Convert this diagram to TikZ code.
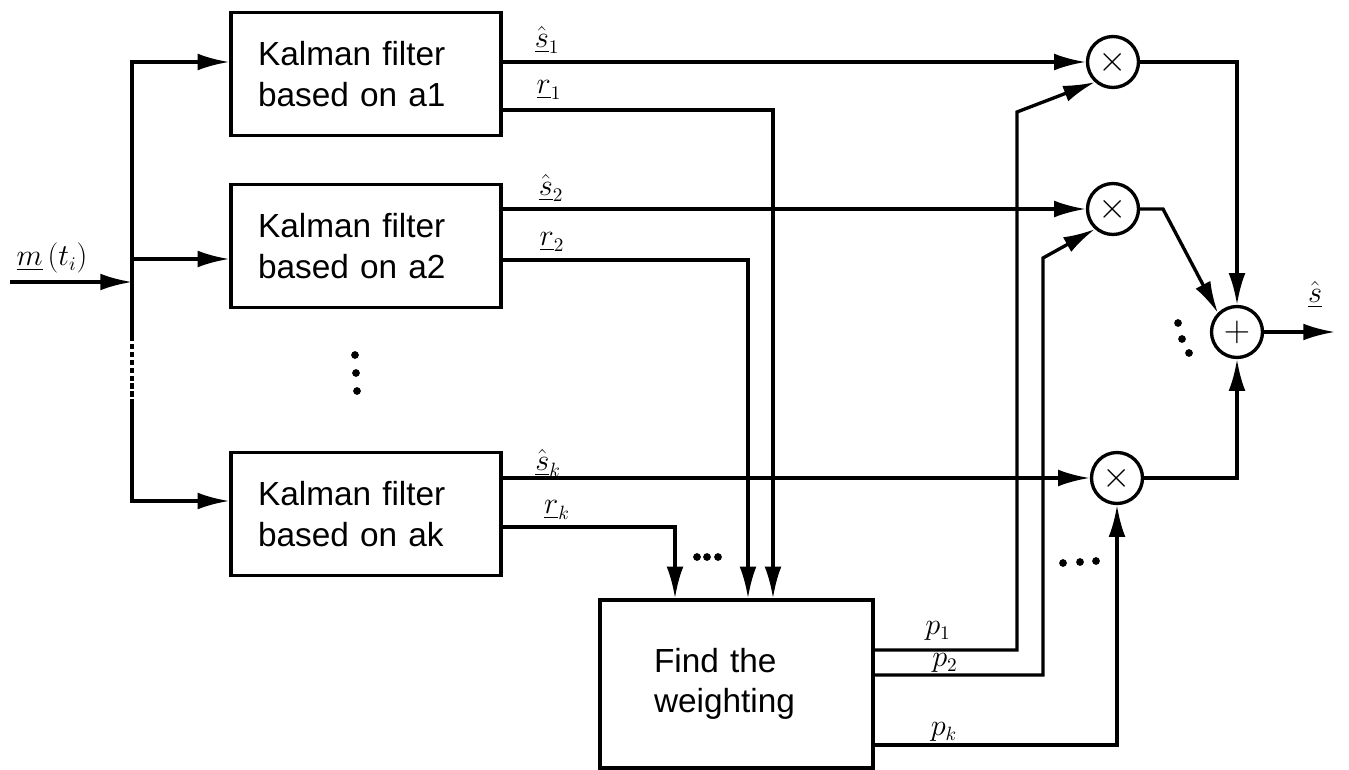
\documentclass[tikz,border=0pt]{standalone}
\usepackage{amsmath,amssymb}
\usepackage{fontspec}
\setmainfont{Liberation Sans}
\usetikzlibrary{arrows.meta}
\tikzset{
  kbox/.style={draw,line width=1.9pt,align=left,text width=4.32cm,inner xsep=0.54cm,minimum height=2.46cm,font=\fontsize{19}{23}\selectfont},
  mulc/.style={circle,draw,line width=1.9pt,minimum size=1.02cm,inner sep=0pt,font=\fontsize{20}{20}\selectfont},
  lab/.style={font=\fontsize{16}{16}\selectfont,inner sep=0pt},
  wire/.style={line width=1.9pt},
  arr/.style={wire,-{Latex[length=18pt,width=9.5pt]}},
  busdots/.style={wire,dash pattern=on 3pt off 1.5pt}
}
\begin{document}
\begin{tikzpicture}[x=0.02cm,y=-0.02cm]
\useasboundingbox (0,0) rectangle (1349,770);
\foreach \n/\y/\a in {1/74/a1,2/246/a2,k/514/ak}{\node[kbox] (kf\n) at (366,\y) {Kalman filter\\based on \a};}
\node[kbox,text width=3.3cm,inner xsep=1.08cm,minimum height=3.36cm] (wt) at (736.5,684) {Find the\\weighting};
\foreach \n/\x/\y in {1/1113/62,2/1113/209,k/1117/478}{\node[mulc] (m\n) at (\x,\y) {$\times$};}
\node[mulc] (add) at (1237,332) {$+$};
% input bus
\coordinate (in) at (10,282);
\coordinate (split) at (132,282);
\coordinate (gap1) at (132,336);
\coordinate (gap2) at (132,401);
\coordinate (out) at (1335,332);
\draw[arr] (in) -- (split);
\draw[arr] (split) |- (kf1.west |- 0,62);
\draw[arr] (split) |- (kf2.west |- 0,259);
\draw[wire] (split) -- (gap1);
\draw[busdots] (gap1) -- (gap2);
\draw[arr] (gap2) |- (kfk.west |- 0,501);
% filter outputs
\draw[arr] (kf1.east |- m1) -- (m1);
\draw[arr] (kf2.east |- m2) -- (m2);
\draw[arr] (kfk.east |- mk) -- (mk);
\draw[arr] (kf1.east |- 0,110) -| (773,0 |- wt.north);
\draw[arr] (kf2.east |- 0,260) -| (748,0 |- wt.north);
\draw[arr] (kfk.east |- 0,527) -| (675,0 |- wt.north);
% weights
\draw[arr] (wt.east |- 0,650) -| (1017,112) -- (m1.228);
\draw[arr] (wt.east |- 0,675) -| (1043,258) -- (m2.228);
\draw[arr] (wt.east |- 0,745) -| (mk.south);
% sum
\draw[arr] (m1.east) -| (add.north);
\draw[arr] (m2.east) -- (1163,209) -- (add.135);
\draw[arr] (mk.east) -| (add.south);
\draw[arr] (add) -- (out);
% labels
\node[lab] (lm) at (52,258) {$\underline{m}\,(t_i)$};
\node[lab] (ls1) at (547,40) {$\hat{\underline{s}}_1$};
\node[lab] (lr1) at (549,90) {$\underline{r}_1$};
\node[lab] (ls2) at (551,188) {$\hat{\underline{s}}_2$};
\node[lab] (lr2) at (552,242) {$\underline{r}_2$};
\node[lab] (lsk) at (548,463) {$\hat{\underline{s}}_k$};
\node[lab] (lrk) at (557,510) {$\underline{r}_k$};
\node[lab] (lp1) at (938,631) {$p_1$};
\node[lab] (lp2) at (945,663) {$p_2$};
\node[lab] (lpk) at (944,732) {$p_k$};
\node[lab] (ls) at (1315,295) {$\hat{\underline{s}}$};
% dots
\foreach \x/\y in {355/355,356/373,357/391,697/557,707/557,718/557,1063/563,1080/562,1096/561,1178/323,1182/339,1189/353}{\fill (\x,\y) circle (2.2pt);}
\end{tikzpicture}
\end{document}
